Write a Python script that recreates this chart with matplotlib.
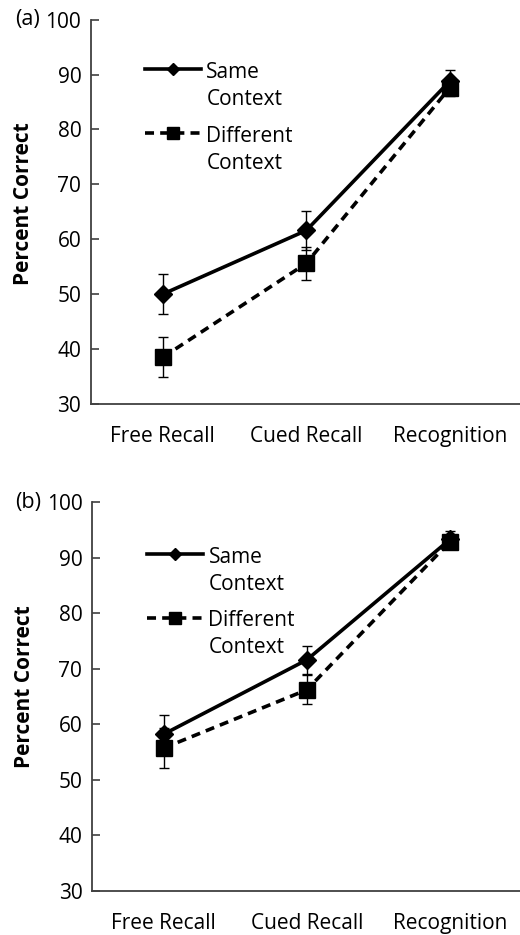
import matplotlib
matplotlib.use("Agg")
import matplotlib.pyplot as plt
from matplotlib.lines import Line2D

plt.rcParams['font.family'] = ['Open Sans', 'DejaVu Sans']

categories = ["Free Recall", "Cued Recall", "Recognition"]
yticks = [30, 40, 50, 60, 70, 80, 90, 100]

# Panel (a)
a_same = [50.0, 61.6, 88.8]
a_same_err = [3.7, 3.6, 2.1]
a_diff = [38.5, 55.6, 87.6]
a_diff_err = [3.6, 3.0, 1.5]

# Panel (b)
b_same = [58.2, 71.6, 93.3]
b_same_err = [3.4, 2.5, 1.5]
b_diff = [55.7, 66.2, 92.9]
b_diff_err = [3.6, 2.6, 1.2]

series_labels = ["Same\nContext", "Different\nContext"]
panel_labels = ["(a)", "(b)"]

FS = 15
DASH = [2.5, 1.7]
LW = 2.6

fig = plt.figure(figsize=(5.2, 9.35), dpi=100)
ax_a = fig.add_axes([0.175, 0.568, 0.828, 0.411])
ax_b = fig.add_axes([0.177, 0.0474, 0.826, 0.4154])

panels = [
    (ax_a, a_same, a_same_err, a_diff, a_diff_err, 0.89, 0.125, 0.52),
    (ax_b, b_same, b_same_err, b_diff, b_diff_err, 0.886, 0.128, 0.525),
]

x = [0.5, 1.5, 2.5]
for i, (ax, s, se, d, de, ly, lx, ylab_y) in enumerate(panels):
    ax.errorbar(x, d, yerr=de, color='black', lw=LW, dashes=DASH,
                marker='s', ms=11, ecolor='black', elinewidth=1.0,
                capsize=3.6, capthick=1.0, zorder=3)
    ax.errorbar(x, s, yerr=se, color='black', lw=LW, marker='D', ms=9.5,
                ecolor='black', elinewidth=1.0, capsize=3.6, capthick=1.0,
                zorder=4)
    ax.set_xlim(0, 3)
    ax.set_ylim(30, 100)
    ax.set_yticks(yticks)
    ax.set_xticks(x)
    ax.set_xticklabels(categories, fontsize=FS)
    ax.tick_params(axis='x', length=0, pad=16)
    ax.tick_params(axis='y', direction='in', length=6, width=1.2,
                   color='#404040', labelsize=FS, pad=7)
    for sp in ['top', 'right']:
        ax.spines[sp].set_visible(False)
    for sp in ['left', 'bottom']:
        ax.spines[sp].set_color('#404040')
        ax.spines[sp].set_linewidth(1.3)
    ax.set_ylabel("Percent Correct", fontsize=15, fontweight='bold')
    ax.yaxis.set_label_coords(-0.133, ylab_y)
    ax.text(-0.118, 1.0, panel_labels[i], transform=ax.transAxes,
            ha='right', va='center', fontsize=FS + 0.5)

    handles = [
        Line2D([], [], color='black', lw=LW, marker='D', ms=6),
        Line2D([], [], color='black', lw=LW, dashes=DASH, marker='s', ms=8),
    ]
    leg = ax.legend(handles, series_labels, loc='upper left',
                    bbox_to_anchor=(lx, ly), frameon=False, fontsize=FS,
                    handlelength=2.7, handletextpad=0.25, labelspacing=0.75,
                    borderpad=0, borderaxespad=0)
    for t in leg.get_texts():
        t.set_linespacing(1.38)
    for vp in leg._legend_handle_box.get_children():
        for hp in vp.get_children():
            hp.align = 'top'

fig.savefig("out.png", dpi=100)
